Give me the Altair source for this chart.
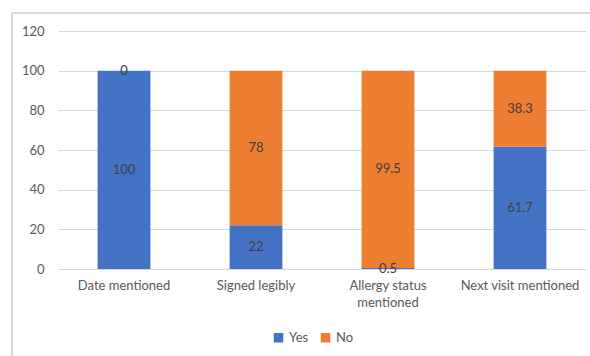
import altair as alt
import pandas as pd

categories = ["Date mentioned", "Signed legibly", "Allergy status|mentioned", "Next visit mentioned"]
yes_values = [100, 22, 0.5, 61.7]
no_values = [0, 78, 99.5, 38.3]
series = ["Yes", "No"]
colors = ["#4472C4", "#ED7D31"]
y_ticks = [0, 20, 40, 60, 80, 100, 120]

rows = []
for c, y, n in zip(categories, yes_values, no_values):
    rows.append({"cat": c, "series": "Yes", "value": y, "ord": 0})
    rows.append({"cat": c, "series": "No", "value": n, "ord": 1})
df = pd.DataFrame(rows)

FONT = "Lato"

base = alt.Chart(df).transform_stack(
    stack="value", groupby=["cat"], as_=["y0", "y1"],
    sort=[alt.SortField("ord", order="ascending")]
).transform_calculate(mid="(datum.y0 + datum.y1) / 2")

x_axis = alt.Axis(labelAngle=0, labelExpr="split(datum.label, '|')",
                  labelFont=FONT, labelFontSize=13, labelColor="#595959",
                  labelPadding=10, ticks=False, domain=False, labelLineHeight=17,
                  labelOverlap=False, title=None)
y_axis = alt.Axis(values=y_ticks, labelFont=FONT, labelFontSize=13,
                  labelColor="#595959", ticks=False, domain=False,
                  gridColor="#D9D9D9", labelPadding=14, labelOverlap=False,
                  labelFlush=False, labelBound=False, title=None)
x_scale = alt.Scale(paddingInner=0.6, paddingOuter=0.3)
y_scale = alt.Scale(domain=[0, 120], nice=False)

bars = base.mark_bar().encode(
    x=alt.X("cat:N", sort=categories, scale=x_scale, axis=x_axis),
    y=alt.Y("y0:Q", scale=y_scale, axis=y_axis),
    y2="y1:Q",
    color=alt.Color("series:N", sort=series,
                    scale=alt.Scale(domain=series, range=colors),
                    legend=alt.Legend(title=None, orient="none", direction="horizontal",
                                      legendX=214, legendY=300, symbolType="square",
                                      symbolSize=90, symbolStrokeWidth=0,
                                      labelFont=FONT, labelFontSize=13,
                                      labelColor="#595959", columnPadding=10)),
)

labels = base.mark_text(font=FONT, fontSize=13, color="#404040").encode(
    x=alt.X("cat:N", sort=categories, scale=x_scale, axis=x_axis),
    y=alt.Y("mid:Q", scale=y_scale, axis=y_axis),
    text=alt.Text("value:Q"),
)

left_border = alt.Chart(df).mark_rule(color="#D9D9D9", strokeWidth=1).encode(
    x=alt.value(-46), y=alt.value(-18), y2=alt.value(400))
top_border = alt.Chart(df).mark_rule(color="#D9D9D9", strokeWidth=1).encode(
    x=alt.value(-46), x2=alt.value(600), y=alt.value(-18))

chart = alt.layer(bars, labels, left_border, top_border).properties(
    width=528, height=238,
    autosize=alt.AutoSizeParams(type="none"),
    padding={"left": 58, "top": 31, "right": 4, "bottom": 87},
    background="white",
).configure_view(stroke=None)

chart.save("out.html", embed_options={"renderer": "svg", "actions": False})
